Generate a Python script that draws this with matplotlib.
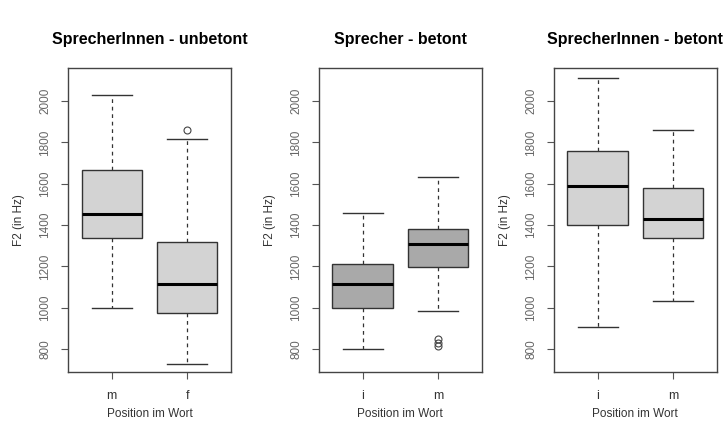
import matplotlib
matplotlib.use("Agg")
import matplotlib.pyplot as plt

plt.rcParams['font.family'] = ['Liberation Sans', 'DejaVu Sans']

titles = ["SprecherInnen - unbetont", "Sprecher - betont", "SprecherInnen - betont"]
categories = [["m", "f"], ["i", "m"], ["i", "m"]]
whislo = [[1000, 728], [800, 985], [905, 1030]]
q1 = [[1339, 974], [1000, 1198], [1401, 1335]]
med = [[1455, 1116], [1116, 1308], [1589, 1427]]
q3 = [[1666, 1317], [1211, 1383], [1758, 1578]]
whishi = [[2029, 1815], [1460, 1631], [2110, 1860]]
fliers = [[[], [1860]], [[], [850, 830, 815]], [[], []]]
box_colors = ["#d3d3d3", "#a9a9a9", "#d3d3d3"]
yticks = [800, 1000, 1200, 1400, 1600, 1800, 2000]
ylabel = "F2 (in Hz)"
xlabel = "Position im Wort"

fig = plt.figure(figsize=(7.23, 4.36), dpi=100)
lefts = [0.094, 0.441, 0.766]
width = 0.2255
bottom = 0.147
height = 0.697

for k in range(3):
    ax = fig.add_axes([lefts[k], bottom, width, height])
    stats = []
    for j in range(2):
        stats.append(dict(label=categories[k][j], whislo=whislo[k][j], q1=q1[k][j],
                          med=med[k][j], q3=q3[k][j], whishi=whishi[k][j],
                          fliers=fliers[k][j]))
    ax.bxp(stats, positions=[1, 2], widths=0.8, patch_artist=True, showfliers=True,
           boxprops=dict(facecolor=box_colors[k], edgecolor="#333333", linewidth=1.0),
           medianprops=dict(color="black", linewidth=2.2),
           whiskerprops=dict(color="#333333", linestyle=(0, (3, 3)), linewidth=0.9),
           capprops=dict(color="#333333", linewidth=1.0),
           capwidths=0.53,
           flierprops=dict(marker="o", markerfacecolor="none", markeredgecolor="#444444",
                           markersize=5, markeredgewidth=0.8))
    ax.set_xlim(0.42, 2.58)
    ax.set_ylim(689, 2160)
    ax.set_yticks(yticks)
    ax.set_yticklabels([str(v) for v in yticks], rotation=90, va="center",
                       fontsize=8.5, color="#666666")
    ax.set_xticks([1, 2])
    ax.set_xticklabels(categories[k], fontsize=9, color="#333333")
    ax.tick_params(axis="both", direction="out", length=5, color="#555555", width=0.8)
    ax.tick_params(axis="x", pad=8)
    ax.tick_params(axis="y", pad=7)
    for s in ax.spines.values():
        s.set_color("#444444")
        s.set_linewidth(1.0)
    ax.set_title(titles[k], fontsize=11.5, fontweight="bold", pad=17)
    ax.set_ylabel(ylabel, fontsize=8.5, color="#333333", labelpad=10)
    ax.set_xlabel(xlabel, fontsize=8.5, color="#333333", labelpad=4)

fig.savefig("out.png", dpi=100)
